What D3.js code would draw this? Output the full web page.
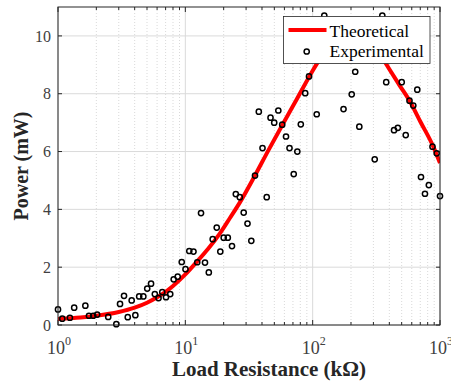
<!DOCTYPE html>
<html lang="en">

<head>
    <meta charset="UTF-8">
    <title>Power vs load resistance</title>
    <script src="https://d3js.org/d3.v7.min.js"></script>
    <style>
        body { margin: 0; background: #fff; }
        text { font-family: "Liberation Serif", "Times New Roman", serif; }
    </style>
</head>

<body>
    <div id="chart"></div>
    <script>
        // ---------------- data ----------------
        // theoretical curve, load resistance in kOhm and power in mW
        var theoR = [1, 1.5, 2, 3, 4, 5, 6, 7, 8, 10, 12.5, 15, 18.7, 22.4, 26.9, 35.2, 45, 57.8, 75, 101, 130, 160, 200, 250, 300, 381, 480, 581, 700, 886, 1000];
        var theoP = [0.21, 0.26, 0.32, 0.45, 0.6, 0.77, 0.96, 1.15, 1.35, 1.75, 2.22, 2.62, 3.17, 3.7, 4.25, 5.17, 6.05, 6.92, 7.81, 8.83, 9.6, 10.1, 10.35, 10.3, 9.8, 9.0, 8.3, 7.73, 7.04, 6.17, 5.6];

        // measured points
        var expR = [1.0, 1.08, 1.24, 1.34, 1.64, 1.75, 1.89, 2.03, 2.48, 2.87,
            3.07, 3.30, 3.53, 3.79, 4.05, 4.34, 4.68, 5.02, 5.38, 5.76,
            6.16, 6.59, 7.05, 7.61, 8.10, 8.71, 9.37, 10.03, 10.74, 11.59,
            12.40, 13.28, 14.27, 15.29, 16.40, 17.64, 18.82, 20.01, 21.56, 23.25,
            24.91, 26.78, 28.73, 30.78, 32.97, 35.25, 37.76, 40.37, 43.56, 46.67,
            49.89, 53.74, 57.66, 61.75, 65.79, 71.0, 75.77, 80.7, 87.4, 93.6,
            107.6, 123.4, 174.7, 202.6, 215.9, 232.5, 307.1, 352.3, 378.1, 435.5,
            466.5, 500.5, 538, 576, 617, 663, 709, 762, 817, 873,
            942, 1000];
        var expP = [0.54, 0.22, 0.25, 0.60, 0.67, 0.32, 0.32, 0.36, 0.28, 0.03,
            0.73, 1.01, 0.27, 0.85, 0.34, 0.99, 0.99, 1.26, 1.43, 1.07,
            0.93, 1.14, 0.96, 1.07, 1.58, 1.67, 2.18, 1.93, 2.56, 2.54,
            2.17, 3.87, 2.16, 1.82, 2.97, 3.37, 2.54, 3.02, 3.02, 2.73,
            4.53, 4.42, 3.89, 3.51, 2.91, 5.17, 7.38, 6.12, 4.42, 7.17,
            7.0, 7.42, 6.93, 6.52, 6.12, 5.22, 6.0, 6.94, 8.02, 8.6,
            7.29, 10.7, 7.47, 7.98, 8.76, 6.86, 5.73, 10.7, 8.40, 6.74,
            6.82, 8.40, 6.57, 7.76, 7.59, 8.14, 5.12, 4.54, 4.84, 6.17,
            5.94, 4.46];

        // axes
        var xTicks = [1, 10, 100, 1000];
        var xTickPowers = ["0", "1", "2", "3"];
        var yTicks = [0, 2, 4, 6, 8, 10];
        var legendLabels = ["Theoretical", "Experimental"];

        // ---------------- layout ----------------
        var W = 451, H = 385;
        var m = { left: 58, top: 7, right: 11, bottom: 60 };
        var w = W - m.left - m.right;
        var h = H - m.top - m.bottom;
        var axisCol = "#262626";

        var svg = d3.select("#chart").append("svg").attr("width", W).attr("height", H);
        var g = svg.append("g").attr("transform", "translate(" + m.left + "," + m.top + ")");

        var x = d3.scaleLog().domain([1, 1000]).range([0, w]);
        var y = d3.scaleLinear().domain([0, 11]).range([h, 0]);

        var minorX = x.ticks().filter(function (v) { return xTicks.indexOf(v) < 0; });

        // grid : dotted minor lines first, then solid major lines
        g.selectAll(".minor").data(minorX).enter().append("line")
            .attr("x1", d => x(d)).attr("x2", d => x(d)).attr("y1", 0).attr("y2", h)
            .attr("stroke", "#cfcfcf").attr("stroke-width", 0.8).attr("stroke-dasharray", "1,2");
        g.selectAll(".gx").data(xTicks).enter().append("line")
            .attr("x1", d => x(d)).attr("x2", d => x(d)).attr("y1", 0).attr("y2", h)
            .attr("stroke", "#dadada").attr("stroke-width", 1);
        g.selectAll(".gy").data(yTicks).enter().append("line")
            .attr("x1", 0).attr("x2", w).attr("y1", d => y(d)).attr("y2", d => y(d))
            .attr("stroke", "#dadada").attr("stroke-width", 1);

        // inward ticks on all four sides
        var ticks = g.append("g").attr("stroke", axisCol).attr("stroke-width", 1);
        xTicks.concat(minorX).forEach(function (v) {
            var len = xTicks.indexOf(v) >= 0 ? 5 : 3;
            ticks.append("line").attr("x1", x(v)).attr("x2", x(v)).attr("y1", h).attr("y2", h - len);
            ticks.append("line").attr("x1", x(v)).attr("x2", x(v)).attr("y1", 0).attr("y2", len);
        });
        yTicks.forEach(function (v) {
            ticks.append("line").attr("x1", 0).attr("x2", 4).attr("y1", y(v)).attr("y2", y(v));
            ticks.append("line").attr("x1", w).attr("x2", w - 4).attr("y1", y(v)).attr("y2", y(v));
        });

        // tick labels
        g.selectAll(".yl").data(yTicks).enter().append("text")
            .attr("x", -7).attr("y", d => y(d)).attr("dy", "0.35em")
            .attr("text-anchor", "end").attr("font-size", 16).attr("fill", "#404040")
            .text(d => d);
        xTicks.forEach(function (v, i) {
            var t = g.append("text").attr("x", x(v) + 1).attr("y", h + 29)
                .attr("text-anchor", "middle").attr("font-size", 18).attr("fill", "#404040");
            t.append("tspan").text("10");
            t.append("tspan").attr("dy", -9).attr("font-size", 12).text(xTickPowers[i]);
        });

        // axis titles
        svg.append("text").attr("x", 269).attr("y", 376)
            .attr("text-anchor", "middle").attr("font-size", 21).attr("font-weight", "bold").attr("fill", axisCol)
            .text("Load Resistance (k\u03a9)");
        svg.append("text").attr("transform", "translate(28," + (m.top + h / 2) + ") rotate(-90)")
            .attr("text-anchor", "middle").attr("font-size", 20).attr("font-weight", "bold").attr("fill", axisCol)
            .text("Power (mW)");

        // clip curve to the plot box
        svg.append("clipPath").attr("id", "clip").append("rect").attr("width", w).attr("height", h);

        var theo = theoR.map((r, i) => [r, theoP[i]]);
        var line = d3.line().x(d => x(d[0])).y(d => y(d[1])).curve(d3.curveMonotoneX);
        g.append("path").datum(theo).attr("d", line)
            .attr("fill", "none").attr("stroke", "#ff0000").attr("stroke-width", 4)
            .attr("clip-path", "url(#clip)");

        var pts = expR.map((r, i) => [r, expP[i]]);
        g.selectAll(".pt").data(pts).enter().append("circle")
            .attr("cx", d => x(d[0])).attr("cy", d => y(d[1])).attr("r", 2.6)
            .attr("fill", "none").attr("stroke", "#000").attr("stroke-width", 1.5);

        // frame
        g.append("rect").attr("width", w).attr("height", h)
            .attr("fill", "none").attr("stroke", axisCol).attr("stroke-width", 1);

        // legend
        var lg = svg.append("g").attr("transform", "translate(283.5,16.5)");
        lg.append("rect").attr("width", 146.5).attr("height", 47)
            .attr("fill", "#fff").attr("stroke", axisCol).attr("stroke-width", 0.8);
        lg.append("line").attr("x1", 5).attr("x2", 43).attr("y1", 13.5).attr("y2", 13.5)
            .attr("stroke", "#ff0000").attr("stroke-width", 4);
        lg.append("circle").attr("cx", 23.2).attr("cy", 35).attr("r", 2.6)
            .attr("fill", "none").attr("stroke", "#000").attr("stroke-width", 1.5);
        legendLabels.forEach(function (s, i) {
            lg.append("text").attr("x", 46).attr("y", 20 + i * 20.7)
                .attr("font-size", 17.5).attr("fill", "#000").text(s);
        });
    </script>
</body>

</html>
